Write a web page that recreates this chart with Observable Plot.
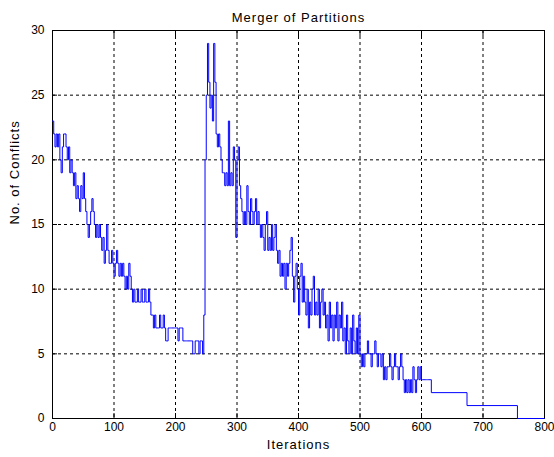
<!DOCTYPE html>
<html>
<head>
<meta charset="utf-8">
<script src="https://cdn.jsdelivr.net/npm/d3@7"></script>
<script src="https://cdn.jsdelivr.net/npm/@observablehq/plot@0.6"></script>
<style>
  html, body { margin: 0; padding: 0; background: #fff; }
  #chart { width: 554px; height: 457px; }
</style>
</head>
<body>
<div id="chart"></div>
<script>
const titleText = "Merger of Partitions";
const xLabel = "Iterations";
const yLabel = "No. of Conflicts";
const xTicks = [0, 100, 200, 300, 400, 500, 600, 700, 800];
const yTicks = [0, 5, 10, 15, 20, 25, 30];

// Conflicts sampled every 2 iterations, iterations 0..614
const sampleStep = 2;
const conflicts = [
  23,22,21,22,21,22,20,19,21,22,
  22,21,20,21,19,20,19,18,19,17,
  18,17,16,18,17,19,17,16,15,14,
  15,16,17,16,15,14,15,14,15,14,
  13,14,12,13,15,13,12,12,13,12,
  11,12,13,12,11,12,11,12,11,10,
  11,10,12,11,10,9,10,9,9,10,
  9,9,10,9,9,10,9,9,10,9,
  8,8,7,8,7,7,7,8,7,7,
  8,7,6,6,7,7,7,7,7,7,
  7,7,6,7,7,7,6,6,6,6,
  6,6,6,6,5,5,6,6,6,5,
  6,6,5,8,20,25,29,26,24,25,
  23,29,26,22,21,22,21,20,19,19,
  18,19,18,23,18,19,18,21,20,14,
  20,21,18,17,16,15,16,15,18,16,
  15,17,16,15,16,17,15,16,15,14,
  15,14,13,15,16,13,14,13,15,13,
  14,15,13,12,13,11,12,11,12,10,
  12,11,12,13,14,11,9,11,12,10,
  8,11,12,9,11,9,8,10,7,9,
  8,10,11,8,9,8,10,7,9,10,
  8,9,7,8,6,9,7,8,6,8,
  7,9,6,8,7,9,6,7,5,8,
  6,5,7,5,8,6,5,7,5,8,
  5,4,5,4,5,5,6,5,5,4,
  5,5,6,5,4,5,5,4,5,3,
  4,3,4,4,5,4,3,4,5,4,
  4,3,4,5,4,3,2,3,2,3,
  2,3,2,4,3,2,3,4,3,4,
  3,3,3,3,3,3,3,3
];
// Long flat tail
const tailIterations = [616, 674, 756, 800];
const tailConflicts  = [2, 1, 0, 0];

const data = conflicts.map((v, i) => ({iter: i * sampleStep, val: v}))
  .concat(tailIterations.map((t, i) => ({iter: t, val: tailConflicts[i]})));

const font = "'Liberation Sans', Arial, sans-serif";

const chart = Plot.plot({
  width: 554,
  height: 457,
  marginLeft: 52,
  marginRight: 10,
  marginTop: 30,
  marginBottom: 39,
  style: {fontFamily: font, fontSize: "12px", background: "#fff", color: "#000", overflow: "visible"},
  x: {domain: [0, 800], label: null},
  y: {domain: [0, 30], label: null},
  marks: [
    Plot.gridX(xTicks.slice(1, -1), {stroke: "#000", strokeOpacity: 1, strokeDasharray: "3,3"}),
    Plot.gridY(yTicks.slice(1, -1), {stroke: "#000", strokeOpacity: 1, strokeDasharray: "3,3"}),
    Plot.frame({stroke: "#000"}),
    Plot.axisX(xTicks, {anchor: "bottom", tickSize: -5, tickPadding: 9, label: null, fill: "#000"}),
    Plot.axisX(xTicks, {anchor: "top", tickSize: -5, tickFormat: () => "", label: null}),
    Plot.axisY(yTicks, {anchor: "left", tickSize: -5, tickPadding: 13, label: null, fill: "#000"}),
    Plot.axisY(yTicks, {anchor: "right", tickSize: -5, tickFormat: () => "", label: null}),
    Plot.line(data, {x: "iter", y: "val", curve: "step-after", stroke: "#0000ff", strokeWidth: 1}),
    Plot.text([titleText], {frameAnchor: "top", dy: -18, fontSize: 13, fill: "#000"}),
    Plot.text([xLabel], {frameAnchor: "bottom", dy: 30, fontSize: 13, fill: "#000"}),
    Plot.text([yLabel], {frameAnchor: "left", dx: -38, rotate: -90, fontSize: 13, fill: "#000"})
  ]
});
const labelSet = new Set([titleText, xLabel, yLabel]);
d3.select(chart).selectAll("text")
  .filter(function() { return labelSet.has(this.textContent); })
  .style("letter-spacing", "1px");
document.getElementById("chart").appendChild(chart);
</script>
</body>
</html>
